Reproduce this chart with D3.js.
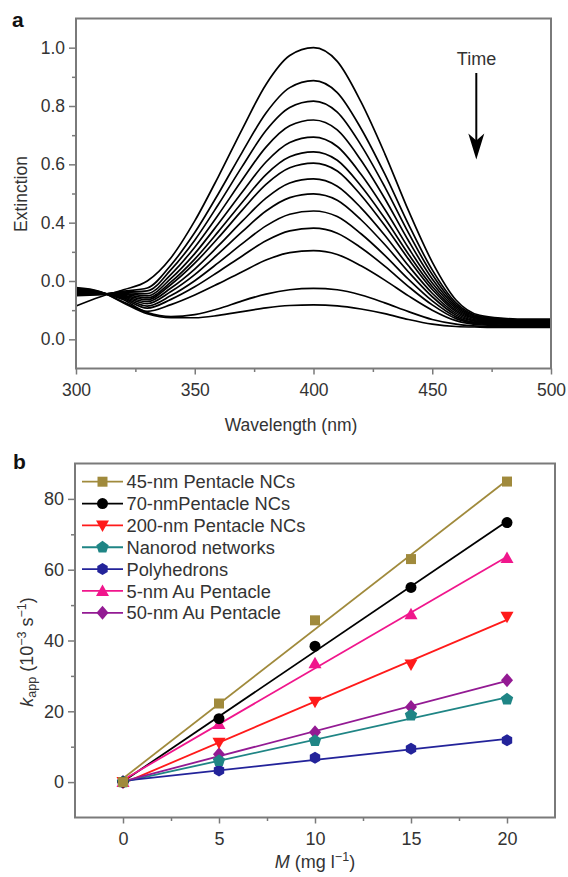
<!DOCTYPE html>
<html>
<head>
<meta charset="utf-8">
<script src="https://cdn.jsdelivr.net/npm/d3@7"></script>
<style>
body { margin: 0; background: #fff; }
svg text { font-family: "Liberation Sans", Arial, sans-serif; fill: #333; }
</style>
</head>
<body>
<svg class="chart"></svg>
<script>
// panel a: extinction spectra, one row per time step
var wavelengths = [300, 310, 320, 330, 340, 350, 360, 370, 380, 390, 400,
                   410, 420, 430, 440, 450, 460, 470, 480, 490, 500];
var extinction = [
    [0.114,0.145,0.170,0.200,0.280,0.406,0.559,0.721,0.874,0.973,1.000,0.953,0.814,0.637,0.441,0.265,0.135,0.082,0.072,0.069,0.069],
    [0.150,0.153,0.165,0.176,0.255,0.366,0.500,0.642,0.776,0.863,0.887,0.846,0.723,0.567,0.394,0.238,0.125,0.078,0.069,0.066,0.066],
    [0.153,0.154,0.162,0.166,0.239,0.340,0.463,0.593,0.716,0.795,0.817,0.779,0.666,0.523,0.365,0.222,0.118,0.075,0.067,0.064,0.064],
    [0.155,0.155,0.160,0.157,0.223,0.316,0.428,0.547,0.659,0.732,0.752,0.718,0.614,0.483,0.338,0.207,0.112,0.072,0.065,0.062,0.062],
    [0.157,0.155,0.157,0.149,0.209,0.294,0.397,0.505,0.608,0.675,0.693,0.661,0.566,0.446,0.313,0.193,0.106,0.069,0.062,0.060,0.060],
    [0.159,0.156,0.154,0.142,0.197,0.275,0.370,0.470,0.565,0.626,0.643,0.614,0.526,0.415,0.292,0.181,0.100,0.067,0.060,0.058,0.058],
    [0.161,0.157,0.151,0.136,0.188,0.261,0.349,0.443,0.531,0.588,0.604,0.577,0.494,0.390,0.275,0.171,0.095,0.064,0.058,0.056,0.056],
    [0.163,0.158,0.148,0.129,0.176,0.241,0.321,0.405,0.484,0.536,0.550,0.525,0.451,0.357,0.252,0.158,0.089,0.061,0.056,0.054,0.054],
    [0.165,0.159,0.145,0.122,0.164,0.222,0.294,0.369,0.440,0.486,0.499,0.477,0.410,0.325,0.231,0.146,0.083,0.059,0.054,0.052,0.052],
    [0.168,0.160,0.142,0.114,0.150,0.201,0.263,0.328,0.389,0.429,0.440,0.421,0.362,0.288,0.206,0.132,0.077,0.056,0.052,0.050,0.050],
    [0.170,0.161,0.139,0.107,0.137,0.180,0.232,0.286,0.338,0.372,0.381,0.364,0.314,0.251,0.181,0.118,0.071,0.053,0.049,0.048,0.048],
    [0.172,0.162,0.136,0.096,0.119,0.152,0.191,0.232,0.272,0.297,0.304,0.291,0.252,0.203,0.149,0.100,0.064,0.050,0.047,0.046,0.046],
    [0.175,0.163,0.128,0.092,0.078,0.085,0.105,0.132,0.155,0.170,0.175,0.170,0.152,0.125,0.095,0.068,0.052,0.045,0.043,0.043,0.043],
    [0.177,0.164,0.125,0.088,0.074,0.074,0.082,0.095,0.108,0.116,0.118,0.115,0.104,0.088,0.068,0.052,0.044,0.042,0.041,0.041,0.041]
];
var xTicksA = [300, 350, 400, 450, 500];
var xMinorA = [325, 375, 425, 475];
var yTicksA = [0, 0.2, 0.4, 0.6, 0.8, 1.0];
var yTickLabelsA = ["0.0", "0.0", "0.4", "0.6", "0.8", "1.0"];
var yMinorA = [0.1, 0.3, 0.5, 0.7, 0.9];

// panel b: rate constant vs catalyst amount
var concentration = [0, 5, 10, 15, 20];
var k45nm = [0, 22.2, 45.7, 63.0, 84.9];
var k70nm = [0, 17.9, 38.4, 55.0, 73.3];
var k200nm = [0, 11.1, 22.7, 33.2, 46.7];
var kNanorod = [0, 6.0, 11.7, 18.9, 23.4];
var kPolyhedron = [0, 3.3, 6.9, 9.4, 11.8];
var k5nmAu = [0, 16.4, 33.6, 47.4, 63.3];
var k50nmAu = [0, 7.9, 14.1, 21.2, 28.8];
var seriesNames = ["45-nm Pentacle NCs", "70-nmPentacle NCs", "200-nm Pentacle NCs",
                   "Nanorod networks", "Polyhedrons", "5-nm Au Pentacle", "50-nm Au Pentacle"];
var xTicksB = [0, 5, 10, 15, 20];
var xMinorB = [2.5, 7.5, 12.5, 17.5];
var yTicksB = [0, 20, 40, 60, 80];
var yMinorB = [10, 30, 50, 70];

function show() {
    'use strict';

    var svg = d3.select(".chart").attr("width", 568).attr("height", 877);
    var axisColor = "#7a7a7a";

    // ---------- panel a ----------
    var ma = { top: 18.5, left: 76 }, wa = 475, ha = 350;
    var ga = svg.append("g").attr("transform", "translate(" + ma.left + "," + ma.top + ")");
    var xa = d3.scaleLinear().domain([300, 500]).range([0, wa]);
    var ya = d3.scaleLinear().domain([-0.1, 1.1]).range([ha, 0]);

    var line = d3.line()
        .x(function (d, i) { return xa(wavelengths[i]); })
        .y(function (d) { return ya(d); })
        .curve(d3.curveMonotoneX);

    ga.selectAll("path.spec").data(extinction).enter()
        .append("path")
        .attr("class", "spec")
        .attr("d", line)
        .attr("fill", "none")
        .attr("stroke", "#000")
        .attr("stroke-width", 1.7);

    drawAxes(ga, xa, ya, wa, ha, {
        xTicks: xTicksA, xMinor: xMinorA, yTicks: yTicksA, yMinor: yMinorA,
        yFormat: function (d, i) { return yTickLabelsA[i]; },
        xPad: 9, yPad: 4, fontSize: 17.5
    });

    ga.append("text").attr("x", -ma.left + 12).attr("y", 8.2)
        .style("font-size", "21px").style("font-weight", "bold").style("fill", "#111").text("a");

    ga.append("text")
        .attr("transform", "translate(" + (27 - ma.left) + "," + (194 - ma.top) + ") rotate(-90)")
        .attr("text-anchor", "middle").style("font-size", "17.5px").text("Extinction");

    ga.append("text").attr("x", 291 - ma.left).attr("y", 431 - ma.top)
        .attr("text-anchor", "middle").style("font-size", "17.5px").text("Wavelength (nm)");

    // time arrow
    ga.append("text").attr("x", 476.5 - ma.left).attr("y", 64.5 - ma.top)
        .attr("text-anchor", "middle").style("font-size", "18px").text("Time");
    ga.append("line")
        .attr("x1", 476.3 - ma.left).attr("x2", 476.3 - ma.left)
        .attr("y1", 73 - ma.top).attr("y2", 145 - ma.top)
        .attr("stroke", "#000").attr("stroke-width", 2);
    ga.append("path")
        .attr("transform", "translate(" + (476.3 - ma.left) + "," + (159.5 - ma.top) + ")")
        .attr("d", "M0,0L-8,-26L0,-19L8,-26Z")
        .attr("fill", "#000");

    // ---------- panel b ----------
    var mb = { top: 463.5, left: 75 }, wb = 480, hb = 354;
    var gb = svg.append("g").attr("transform", "translate(" + mb.left + "," + mb.top + ")");
    var xb = d3.scaleLinear().domain([-2.5, 22.5]).range([0, wb]);
    var yb = d3.scaleLinear().domain([-10, 90]).range([hb, 0]);

    var series = [
        { name: seriesNames[0], values: k45nm, color: "#a08a3c", shape: "square" },
        { name: seriesNames[1], values: k70nm, color: "#000000", shape: "circle" },
        { name: seriesNames[2], values: k200nm, color: "#ff1a1a", shape: "down" },
        { name: seriesNames[3], values: kNanorod, color: "#1f8585", shape: "pentagon" },
        { name: seriesNames[4], values: kPolyhedron, color: "#23239a", shape: "hexagon" },
        { name: seriesNames[5], values: k5nmAu, color: "#f0168c", shape: "up" },
        { name: seriesNames[6], values: k50nmAu, color: "#931a93", shape: "diamond" }
    ];

    // least squares line through each series
    series.forEach(function (s) {
        var mx = d3.mean(concentration), my = d3.mean(s.values);
        var sxy = d3.sum(concentration, function (c, i) { return (c - mx) * (s.values[i] - my); });
        var sxx = d3.sum(concentration, function (c) { return (c - mx) * (c - mx); });
        s.slope = sxy / sxx;
        s.icpt = my - s.slope * mx;
    });

    var x0 = d3.min(concentration), x1 = d3.max(concentration);
    gb.selectAll("line.fit").data(series).enter()
        .append("line")
        .attr("class", "fit")
        .attr("x1", xb(x0)).attr("x2", xb(x1))
        .attr("y1", function (s) { return yb(s.icpt + s.slope * x0); })
        .attr("y2", function (s) { return yb(s.icpt + s.slope * x1); })
        .attr("stroke", function (s) { return s.color; })
        .attr("stroke-width", 1.8);

    series.slice().reverse().forEach(function (s) {
        gb.selectAll(null).data(s.values).enter()
            .append("path")
            .attr("transform", function (d, i) {
                return "translate(" + xb(concentration[i]) + "," + yb(d) + ")";
            })
            .attr("d", marker(s.shape))
            .attr("fill", s.color);
    });

    drawAxes(gb, xb, yb, wb, hb, {
        xTicks: xTicksB, xMinor: xMinorB, yTicks: yTicksB, yMinor: yMinorB,
        yFormat: d3.format("d"), xPad: 9, yPad: 4, fontSize: 18
    });

    // legend
    var legend = gb.append("g").attr("transform", "translate(" + (82 - mb.left) + "," + (481.7 - mb.top) + ")");
    var rows = legend.selectAll("g").data(series).enter()
        .append("g")
        .attr("transform", function (d, i) { return "translate(0," + (i * 21.85) + ")"; });
    rows.append("line").attr("x1", 0).attr("x2", 41)
        .attr("stroke", function (d) { return d.color; }).attr("stroke-width", 1.8);
    rows.append("path").attr("transform", "translate(20.5,0)")
        .attr("d", function (d) { return marker(d.shape); })
        .attr("fill", function (d) { return d.color; });
    rows.append("text").attr("x", 44.5).attr("dy", "0.36em")
        .style("font-size", "18.3px").text(function (d) { return d.name; });

    gb.append("text").attr("x", 13 - mb.left).attr("y", 469 - mb.top)
        .style("font-size", "21px").style("font-weight", "bold").style("fill", "#111").text("b");

    var yl = gb.append("text")
        .attr("transform", "translate(" + (33 - mb.left) + "," + (652 - mb.top) + ") rotate(-90)")
        .attr("text-anchor", "middle").style("font-size", "18px");
    yl.append("tspan").style("font-style", "italic").text("k");
    yl.append("tspan").attr("baseline-shift", "-25%").style("font-size", "12.5px").text("app");
    yl.append("tspan").text(" (10");
    yl.append("tspan").attr("baseline-shift", "super").style("font-size", "12.5px").text("\u22123");
    yl.append("tspan").text(" s");
    yl.append("tspan").attr("baseline-shift", "super").style("font-size", "12.5px").text("\u22121");
    yl.append("tspan").text(")");

    var xl = gb.append("text").attr("x", 315 - mb.left).attr("y", 868 - mb.top)
        .attr("text-anchor", "middle").style("font-size", "18px");
    xl.append("tspan").style("font-style", "italic").text("M");
    xl.append("tspan").text(" (mg l");
    xl.append("tspan").attr("baseline-shift", "super").style("font-size", "12.5px").text("\u22121");
    xl.append("tspan").text(")");

    function drawAxes(g, x, y, w, h, o) {
        g.append("g").attr("transform", "translate(0," + h + ")")
            .call(d3.axisBottom(x).tickValues(o.xTicks).tickSize(6).tickPadding(o.xPad).tickFormat(d3.format("d")))
            .call(style, o.fontSize);
        g.append("g").attr("transform", "translate(0," + h + ")")
            .call(d3.axisBottom(x).tickValues(o.xMinor).tickSize(3.5).tickFormat(""))
            .call(style, o.fontSize);
        g.append("g")
            .call(d3.axisLeft(y).tickValues(o.yTicks).tickSize(7).tickPadding(o.yPad).tickFormat(o.yFormat))
            .call(style, o.fontSize);
        g.append("g")
            .call(d3.axisLeft(y).tickValues(o.yMinor).tickSize(4).tickFormat(""))
            .call(style, o.fontSize);
        g.append("rect").attr("width", w).attr("height", h)
            .attr("fill", "none").attr("stroke", axisColor).attr("stroke-width", 2);
    }

    function style(sel, fs) {
        sel.select(".domain").remove();
        sel.selectAll(".tick line").attr("stroke", axisColor).attr("stroke-width", 1.5);
        sel.selectAll(".tick text").style("font-size", fs + "px").attr("fill", "#333");
        sel.attr("font-family", null).attr("font-size", null);
    }

    function marker(shape) {
        if (shape === "square") return "M-5,-5H5V5H-5Z";
        if (shape === "circle") return d3.symbol(d3.symbolCircle, 95)();
        if (shape === "up") return "M0,-6.5L6.5,5L-6.5,5Z";
        if (shape === "down") return "M0,6.5L6.5,-5L-6.5,-5Z";
        if (shape === "diamond") return "M0,-7L6,0L0,7L-6,0Z";
        var n = shape === "pentagon" ? 5 : 6, r = shape === "pentagon" ? 6.5 : 6;
        var pts = d3.range(n).map(function (i) {
            var a = -Math.PI / 2 + i * 2 * Math.PI / n;
            return [r * Math.cos(a), r * Math.sin(a)];
        });
        return "M" + pts.join("L") + "Z";
    }
}
show();
</script>
</body>
</html>
